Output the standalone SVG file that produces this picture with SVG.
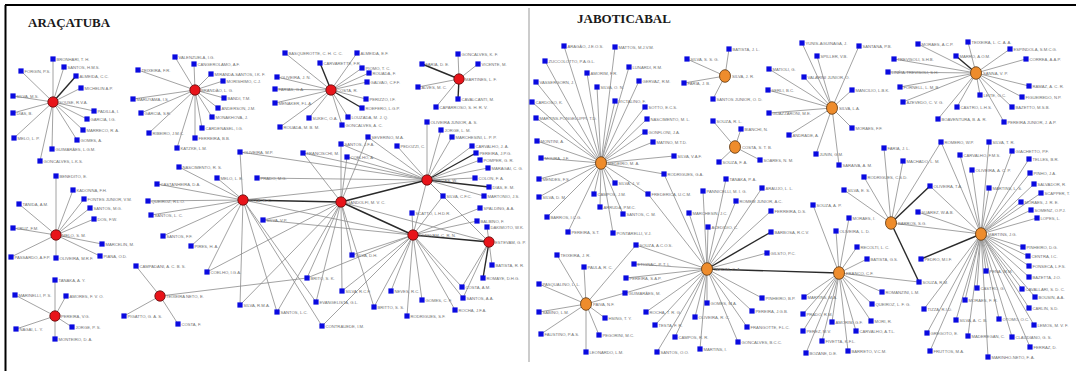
<svg xmlns="http://www.w3.org/2000/svg" width="1076" height="371" viewBox="0 0 1076 371">
<style>
text{font-family:"Liberation Sans",Arial,sans-serif;font-size:4.2px;fill:#707070}
.ttl{font-family:"Liberation Serif","Times New Roman",serif;font-size:13px;font-weight:bold;fill:#1a1a1a}
.e{stroke:#8c8c8c;stroke-width:0.8}
.t{stroke:#2a2a2a;stroke-width:1.4}
.r{fill:#e8141a;stroke:#5a0a0a;stroke-width:0.8}
.o{fill:#ee8c2c;stroke:#5a3510;stroke-width:0.8}
</style>
<defs><rect id="q" x="-2.6" y="-2.6" width="5.2" height="5.2" fill="#0a0ae0"/></defs>
<rect width="1076" height="371" fill="#fff"/>
<g id="frame">
<line x1="5" y1="5" x2="1076" y2="5" stroke="#000" stroke-width="2"/>
<line x1="5.5" y1="5" x2="5.5" y2="371" stroke="#000" stroke-width="2"/>
<line x1="529" y1="8" x2="529" y2="362" stroke="#aaa" stroke-width="1.2"/>
</g>
<text class="ttl" x="28" y="27">ARAÇATUBA</text>
<text class="ttl" x="577" y="23">JABOTICABAL</text>
<g id="connectors">
<line class="e" x1="53" y1="102" x2="53" y2="59"/><line class="e" x1="53" y1="102" x2="64" y2="67"/><line class="e" x1="53" y1="102" x2="21" y2="71"/><line class="t" x1="53" y1="102" x2="76" y2="76"/><line class="e" x1="53" y1="102" x2="81" y2="88"/><line class="e" x1="53" y1="102" x2="13" y2="96"/><line class="e" x1="53" y1="102" x2="13" y2="113"/><line class="e" x1="53" y1="102" x2="94" y2="111"/><line class="e" x1="53" y1="102" x2="87" y2="119"/><line class="e" x1="53" y1="102" x2="83" y2="130"/><line class="e" x1="53" y1="102" x2="77" y2="140"/><line class="e" x1="53" y1="102" x2="14" y2="138"/><line class="e" x1="53" y1="102" x2="52" y2="149"/><line class="e" x1="53" y1="102" x2="40" y2="161"/>
<line class="e" x1="195" y1="90" x2="175" y2="57"/><line class="e" x1="195" y1="90" x2="194" y2="64"/><line class="e" x1="195" y1="90" x2="138" y2="70"/><line class="e" x1="195" y1="90" x2="211" y2="74"/><line class="e" x1="195" y1="90" x2="223" y2="81"/><line class="e" x1="195" y1="90" x2="133" y2="99"/><line class="e" x1="195" y1="90" x2="224" y2="98"/><line class="e" x1="195" y1="90" x2="141" y2="113"/><line class="e" x1="195" y1="90" x2="218" y2="108"/><line class="e" x1="195" y1="90" x2="212" y2="117"/><line class="e" x1="195" y1="90" x2="202" y2="128"/><line class="e" x1="195" y1="90" x2="149" y2="133"/><line class="e" x1="195" y1="90" x2="195" y2="138"/><line class="e" x1="195" y1="90" x2="177" y2="148"/>
<line class="e" x1="331" y1="90" x2="285" y2="53"/><line class="e" x1="331" y1="90" x2="357" y2="53"/><line class="t" x1="331" y1="90" x2="320" y2="63"/><line class="e" x1="331" y1="90" x2="362" y2="68"/><line class="e" x1="331" y1="90" x2="369" y2="73"/><line class="e" x1="331" y1="90" x2="277" y2="77"/><line class="e" x1="331" y1="90" x2="367" y2="82"/><line class="e" x1="331" y1="90" x2="275" y2="89"/><line class="e" x1="331" y1="90" x2="366" y2="99"/><line class="e" x1="331" y1="90" x2="275" y2="103"/><line class="t" x1="331" y1="90" x2="362" y2="108"/><line class="e" x1="331" y1="90" x2="348" y2="117"/><line class="e" x1="331" y1="90" x2="309" y2="118"/><line class="e" x1="331" y1="90" x2="280" y2="127"/><line class="e" x1="331" y1="90" x2="342" y2="125"/>
<line class="e" x1="459" y1="79" x2="458" y2="54"/><line class="t" x1="459" y1="79" x2="422" y2="64"/><line class="e" x1="459" y1="79" x2="478" y2="64"/><line class="e" x1="459" y1="79" x2="418" y2="87"/><line class="t" x1="459" y1="79" x2="458" y2="99"/><line class="e" x1="459" y1="79" x2="436" y2="107"/>
<line class="e" x1="56" y1="235" x2="56" y2="176"/><line class="e" x1="56" y1="235" x2="73" y2="190"/><line class="e" x1="56" y1="235" x2="84" y2="199"/><line class="e" x1="56" y1="235" x2="19" y2="204"/><line class="e" x1="56" y1="235" x2="90" y2="208"/><line class="e" x1="56" y1="235" x2="94" y2="219"/><line class="e" x1="56" y1="235" x2="13" y2="228"/><line class="e" x1="56" y1="235" x2="102" y2="244"/><line class="e" x1="56" y1="235" x2="11" y2="257"/><line class="e" x1="56" y1="235" x2="56" y2="258"/><line class="e" x1="56" y1="235" x2="100" y2="256"/>
<line class="e" x1="55" y1="316" x2="55" y2="280"/><line class="e" x1="55" y1="316" x2="15" y2="295"/><line class="e" x1="55" y1="316" x2="66" y2="296"/><line class="e" x1="55" y1="316" x2="16" y2="329"/><line class="e" x1="55" y1="316" x2="72" y2="327"/><line class="e" x1="55" y1="316" x2="55" y2="339"/>
<line class="e" x1="160" y1="296" x2="136" y2="266"/><line class="e" x1="160" y1="296" x2="124" y2="316"/><line class="e" x1="160" y1="296" x2="178" y2="324"/><line class="e" x1="160" y1="296" x2="307" y2="278"/>
<line class="e" x1="243" y1="200" x2="179" y2="167"/><line class="e" x1="243" y1="200" x2="217" y2="178"/><line class="e" x1="243" y1="200" x2="157" y2="184"/><line class="e" x1="243" y1="200" x2="148" y2="201"/><line class="e" x1="243" y1="200" x2="151" y2="215"/><line class="e" x1="243" y1="200" x2="163" y2="236"/><line class="e" x1="243" y1="200" x2="191" y2="246"/><line class="e" x1="243" y1="200" x2="207" y2="272"/><line class="e" x1="243" y1="200" x2="240" y2="305"/><line class="e" x1="243" y1="200" x2="277" y2="312"/><line class="e" x1="243" y1="200" x2="322" y2="326"/><line class="e" x1="243" y1="200" x2="316" y2="302"/><line class="e" x1="243" y1="200" x2="240" y2="152"/>
<line class="t" x1="243" y1="200" x2="341" y2="202"/><line class="e" x1="243" y1="200" x2="427" y2="180"/><line class="e" x1="243" y1="200" x2="413" y2="235"/>
<line class="e" x1="341" y1="202" x2="341" y2="144"/><line class="e" x1="341" y1="202" x2="303" y2="153"/><line class="e" x1="341" y1="202" x2="347" y2="157"/><line class="e" x1="341" y1="202" x2="263" y2="220"/><line class="e" x1="341" y1="202" x2="207" y2="272"/><line class="e" x1="341" y1="202" x2="352" y2="255"/><line class="e" x1="341" y1="202" x2="342" y2="291"/><line class="e" x1="341" y1="202" x2="316" y2="302"/><line class="e" x1="341" y1="202" x2="307" y2="278"/><line class="e" x1="341" y1="202" x2="374" y2="307"/><line class="e" x1="341" y1="202" x2="277" y2="312"/><line class="e" x1="341" y1="202" x2="240" y2="305"/><line class="e" x1="341" y1="202" x2="368" y2="137"/>
<line class="t" x1="341" y1="202" x2="427" y2="180"/><line class="t" x1="341" y1="202" x2="413" y2="235"/><line class="e" x1="341" y1="202" x2="489" y2="242"/>
<line class="e" x1="427" y1="180" x2="427" y2="122"/><line class="e" x1="427" y1="180" x2="441" y2="130"/><line class="e" x1="427" y1="180" x2="452" y2="137"/><line class="e" x1="427" y1="180" x2="397" y2="146"/><line class="e" x1="427" y1="180" x2="472" y2="146"/><line class="t" x1="427" y1="180" x2="476" y2="153"/><line class="e" x1="427" y1="180" x2="480" y2="160"/><line class="e" x1="427" y1="180" x2="488" y2="168"/><line class="e" x1="427" y1="180" x2="475" y2="178"/><line class="t" x1="427" y1="180" x2="489" y2="187"/><line class="e" x1="427" y1="180" x2="443" y2="196"/><line class="e" x1="427" y1="180" x2="484" y2="196"/><line class="e" x1="427" y1="180" x2="368" y2="137"/><line class="e" x1="427" y1="180" x2="341" y2="144"/><line class="e" x1="427" y1="180" x2="303" y2="153"/><line class="e" x1="427" y1="180" x2="240" y2="152"/><line class="e" x1="427" y1="180" x2="257" y2="178"/><line class="e" x1="427" y1="180" x2="347" y2="157"/>
<line class="e" x1="427" y1="180" x2="413" y2="235"/><line class="e" x1="427" y1="180" x2="489" y2="242"/>
<line class="e" x1="413" y1="235" x2="412" y2="213"/><line class="e" x1="413" y1="235" x2="480" y2="208"/><line class="e" x1="413" y1="235" x2="477" y2="221"/><line class="e" x1="413" y1="235" x2="443" y2="196"/><line class="e" x1="413" y1="235" x2="352" y2="255"/><line class="e" x1="413" y1="235" x2="391" y2="291"/><line class="e" x1="413" y1="235" x2="422" y2="300"/><line class="e" x1="413" y1="235" x2="374" y2="307"/><line class="e" x1="413" y1="235" x2="455" y2="310"/><line class="e" x1="413" y1="235" x2="407" y2="316"/><line class="e" x1="413" y1="235" x2="463" y2="298"/><line class="e" x1="413" y1="235" x2="462" y2="287"/><line class="e" x1="413" y1="235" x2="342" y2="291"/><line class="e" x1="413" y1="235" x2="322" y2="326"/><line class="e" x1="413" y1="235" x2="307" y2="278"/><line class="e" x1="413" y1="235" x2="263" y2="220"/>
<line class="t" x1="413" y1="235" x2="489" y2="242"/>
<line class="e" x1="489" y1="242" x2="492" y2="265"/><line class="t" x1="489" y1="242" x2="483" y2="278"/><line class="e" x1="489" y1="242" x2="462" y2="287"/><line class="e" x1="489" y1="242" x2="487" y2="227"/><line class="e" x1="489" y1="242" x2="463" y2="298"/>
<line class="e" x1="725" y1="76" x2="729" y2="49"/><line class="e" x1="725" y1="76" x2="687" y2="59"/><line class="e" x1="725" y1="76" x2="684" y2="83"/><line class="e" x1="725" y1="76" x2="713" y2="99"/>
<line class="e" x1="601" y1="163" x2="564" y2="46"/><line class="e" x1="601" y1="163" x2="615" y2="47"/><line class="e" x1="601" y1="163" x2="545" y2="61"/><line class="e" x1="601" y1="163" x2="587" y2="73"/><line class="e" x1="601" y1="163" x2="629" y2="67"/><line class="e" x1="601" y1="163" x2="536" y2="82"/><line class="e" x1="601" y1="163" x2="597" y2="87"/><line class="e" x1="601" y1="163" x2="639" y2="81"/><line class="e" x1="601" y1="163" x2="532" y2="102"/><line class="e" x1="601" y1="163" x2="615" y2="101"/><line class="e" x1="601" y1="163" x2="645" y2="107"/><line class="e" x1="601" y1="163" x2="536" y2="118"/><line class="e" x1="601" y1="163" x2="647" y2="119"/><line class="e" x1="601" y1="163" x2="645" y2="132"/><line class="e" x1="601" y1="163" x2="537" y2="141"/><line class="e" x1="601" y1="163" x2="653" y2="142"/><line class="e" x1="601" y1="163" x2="541" y2="158"/><line class="e" x1="601" y1="163" x2="674" y2="156"/><line class="e" x1="601" y1="163" x2="664" y2="174"/><line class="e" x1="601" y1="163" x2="539" y2="179"/><line class="e" x1="601" y1="163" x2="615" y2="183"/><line class="e" x1="601" y1="163" x2="648" y2="194"/><line class="e" x1="601" y1="163" x2="539" y2="197"/><line class="e" x1="601" y1="163" x2="594" y2="194"/><line class="e" x1="601" y1="163" x2="600" y2="207"/><line class="e" x1="601" y1="163" x2="623" y2="214"/><line class="e" x1="601" y1="163" x2="547" y2="217"/><line class="e" x1="601" y1="163" x2="568" y2="232"/><line class="e" x1="601" y1="163" x2="613" y2="233"/>
<line class="e" x1="735" y1="147" x2="741" y2="129"/><line class="e" x1="735" y1="147" x2="713" y2="121"/><line class="e" x1="735" y1="147" x2="719" y2="162"/><line class="e" x1="735" y1="147" x2="760" y2="160"/>
<line class="e" x1="832" y1="108" x2="802" y2="43"/><line class="e" x1="832" y1="108" x2="859" y2="46"/><line class="e" x1="832" y1="108" x2="817" y2="56"/><line class="e" x1="832" y1="108" x2="769" y2="69"/><line class="e" x1="832" y1="108" x2="804" y2="77"/><line class="e" x1="832" y1="108" x2="852" y2="90"/><line class="e" x1="832" y1="108" x2="768" y2="90"/><line class="e" x1="832" y1="108" x2="769" y2="113"/><line class="e" x1="832" y1="108" x2="852" y2="128"/><line class="e" x1="832" y1="108" x2="789" y2="135"/><line class="e" x1="832" y1="108" x2="816" y2="154"/><line class="e" x1="832" y1="108" x2="839" y2="165"/>
<line class="e" x1="976" y1="73" x2="918" y2="44"/><line class="e" x1="976" y1="73" x2="968" y2="42"/><line class="e" x1="976" y1="73" x2="1010" y2="49"/><line class="t" x1="976" y1="73" x2="956" y2="56"/><line class="e" x1="976" y1="73" x2="894" y2="59"/><line class="e" x1="976" y1="73" x2="1026" y2="59"/><line class="e" x1="976" y1="73" x2="888" y2="72"/><line class="e" x1="976" y1="73" x2="900" y2="87"/><line class="e" x1="976" y1="73" x2="1029" y2="86"/><line class="e" x1="976" y1="73" x2="980" y2="95"/><line class="e" x1="976" y1="73" x2="1022" y2="97"/><line class="e" x1="976" y1="73" x2="903" y2="102"/><line class="e" x1="976" y1="73" x2="957" y2="107"/><line class="e" x1="976" y1="73" x2="1012" y2="107"/><line class="e" x1="976" y1="73" x2="938" y2="119"/><line class="e" x1="976" y1="73" x2="1004" y2="122"/>
<line class="e" x1="891" y1="223" x2="884" y2="148"/><line class="e" x1="891" y1="223" x2="903" y2="161"/><line class="e" x1="891" y1="223" x2="864" y2="177"/><line class="e" x1="891" y1="223" x2="844" y2="190"/><line class="t" x1="891" y1="223" x2="930" y2="186"/><line class="e" x1="891" y1="223" x2="941" y2="142"/><line class="e" x1="891" y1="223" x2="981" y2="234"/><line class="t" x1="891" y1="223" x2="919" y2="282"/>
<line class="e" x1="981" y1="234" x2="989" y2="142"/><line class="e" x1="981" y1="234" x2="1012" y2="151"/><line class="e" x1="981" y1="234" x2="960" y2="155"/><line class="e" x1="981" y1="234" x2="1029" y2="159"/><line class="e" x1="981" y1="234" x2="972" y2="170"/><line class="e" x1="981" y1="234" x2="1030" y2="173"/><line class="e" x1="981" y1="234" x2="1034" y2="184"/><line class="e" x1="981" y1="234" x2="989" y2="188"/><line class="e" x1="981" y1="234" x2="1041" y2="193"/><line class="e" x1="981" y1="234" x2="1021" y2="202"/><line class="e" x1="981" y1="234" x2="1031" y2="210"/><line class="e" x1="981" y1="234" x2="1037" y2="218"/><line class="e" x1="981" y1="234" x2="1023" y2="247"/><line class="e" x1="981" y1="234" x2="1028" y2="256"/><line class="e" x1="981" y1="234" x2="1029" y2="266"/><line class="e" x1="981" y1="234" x2="1029" y2="277"/><line class="e" x1="981" y1="234" x2="986" y2="271"/><line class="e" x1="981" y1="234" x2="977" y2="288"/><line class="e" x1="981" y1="234" x2="1022" y2="289"/><line class="e" x1="981" y1="234" x2="965" y2="300"/><line class="e" x1="981" y1="234" x2="1035" y2="297"/><line class="e" x1="981" y1="234" x2="1029" y2="308"/><line class="e" x1="981" y1="234" x2="924" y2="309"/><line class="e" x1="981" y1="234" x2="956" y2="320"/><line class="e" x1="981" y1="234" x2="999" y2="319"/><line class="e" x1="981" y1="234" x2="1034" y2="325"/><line class="e" x1="981" y1="234" x2="927" y2="333"/><line class="e" x1="981" y1="234" x2="968" y2="336"/><line class="e" x1="981" y1="234" x2="1012" y2="337"/><line class="e" x1="981" y1="234" x2="1030" y2="347"/><line class="e" x1="981" y1="234" x2="930" y2="351"/><line class="e" x1="981" y1="234" x2="988" y2="357"/><line class="t" x1="981" y1="234" x2="921" y2="259"/><line class="e" x1="981" y1="234" x2="930" y2="186"/><line class="e" x1="981" y1="234" x2="918" y2="212"/><line class="e" x1="981" y1="234" x2="941" y2="142"/>
<line class="e" x1="839" y1="273" x2="857" y2="247"/><line class="e" x1="839" y1="273" x2="867" y2="259"/><line class="e" x1="839" y1="273" x2="882" y2="292"/><line class="e" x1="839" y1="273" x2="872" y2="304"/><line class="e" x1="839" y1="273" x2="804" y2="297"/><line class="e" x1="839" y1="273" x2="803" y2="314"/><line class="e" x1="839" y1="273" x2="871" y2="321"/><line class="e" x1="839" y1="273" x2="832" y2="322"/><line class="e" x1="839" y1="273" x2="803" y2="331"/><line class="e" x1="839" y1="273" x2="856" y2="331"/><line class="e" x1="839" y1="273" x2="822" y2="341"/><line class="e" x1="839" y1="273" x2="806" y2="353"/><line class="e" x1="839" y1="273" x2="848" y2="351"/><line class="e" x1="839" y1="273" x2="919" y2="282"/><line class="e" x1="839" y1="273" x2="813" y2="205"/><line class="e" x1="839" y1="273" x2="849" y2="218"/><line class="e" x1="839" y1="273" x2="836" y2="231"/>
<line class="e" x1="707" y1="269" x2="636" y2="245"/><line class="e" x1="707" y1="269" x2="726" y2="179"/><line class="e" x1="707" y1="269" x2="762" y2="188"/><line class="e" x1="707" y1="269" x2="703" y2="191"/><line class="e" x1="707" y1="269" x2="736" y2="201"/><line class="e" x1="707" y1="269" x2="771" y2="211"/><line class="e" x1="707" y1="269" x2="689" y2="213"/><line class="e" x1="707" y1="269" x2="708" y2="227"/><line class="t" x1="707" y1="269" x2="771" y2="232"/><line class="e" x1="707" y1="269" x2="634" y2="264"/><line class="e" x1="707" y1="269" x2="626" y2="278"/><line class="e" x1="707" y1="269" x2="625" y2="293"/><line class="e" x1="707" y1="269" x2="767" y2="253"/><line class="e" x1="707" y1="269" x2="762" y2="298"/><line class="e" x1="707" y1="269" x2="707" y2="303"/><line class="e" x1="707" y1="269" x2="646" y2="312"/><line class="e" x1="707" y1="269" x2="752" y2="311"/><line class="e" x1="707" y1="269" x2="695" y2="317"/><line class="e" x1="707" y1="269" x2="655" y2="325"/><line class="e" x1="707" y1="269" x2="747" y2="327"/><line class="e" x1="707" y1="269" x2="675" y2="337"/><line class="e" x1="707" y1="269" x2="738" y2="342"/><line class="e" x1="707" y1="269" x2="657" y2="352"/><line class="e" x1="707" y1="269" x2="700" y2="349"/><line class="e" x1="707" y1="269" x2="664" y2="174"/><line class="e" x1="707" y1="269" x2="648" y2="194"/><line class="t" x1="707" y1="269" x2="839" y2="273"/>
<line class="e" x1="586" y1="304" x2="557" y2="255"/><line class="e" x1="586" y1="304" x2="584" y2="267"/><line class="e" x1="586" y1="304" x2="539" y2="284"/><line class="e" x1="586" y1="304" x2="539" y2="312"/><line class="e" x1="586" y1="304" x2="605" y2="318"/><line class="e" x1="586" y1="304" x2="541" y2="334"/><line class="e" x1="586" y1="304" x2="599" y2="335"/><line class="e" x1="586" y1="304" x2="586" y2="352"/><line class="e" x1="586" y1="304" x2="625" y2="293"/><line class="e" x1="586" y1="304" x2="636" y2="245"/>
</g>
<g id="A1"><circle class="r" cx="53" cy="102" r="5.2"/><text x="59" y="103.5">SOUSE, R.V.A.</text></g>
<g id="a01"><use href="#q" x="53" y="59"/><text x="56.5" y="60.5">BRONHARI, T. H.</text></g>
<g id="a02"><use href="#q" x="64" y="67"/><text x="67.5" y="68.5">SANTOS, H.M.S.</text></g>
<g id="a03"><use href="#q" x="21" y="71"/><text x="24.5" y="72.5">FORGIN, P.S.</text></g>
<g id="a04"><use href="#q" x="76" y="76"/><text x="79.5" y="77.5">ALMEIDA, C.C.</text></g>
<g id="a05"><use href="#q" x="81" y="88"/><text x="84.5" y="89.5">MICHELIN A.P.</text></g>
<g id="a06"><use href="#q" x="13" y="96"/><text x="16.5" y="97.5">SILVA, M.S.</text></g>
<g id="a07"><use href="#q" x="13" y="113"/><text x="16.5" y="114.5">DIAS, B.</text></g>
<g id="a08"><use href="#q" x="94" y="111"/><text x="97.5" y="112.5">PADILLA, I.</text></g>
<g id="a09"><use href="#q" x="87" y="119"/><text x="90.5" y="120.5">GARCIA, I.G.</text></g>
<g id="a10"><use href="#q" x="83" y="130"/><text x="86.5" y="131.5">MARRECO, R. A.</text></g>
<g id="a11"><use href="#q" x="77" y="140"/><text x="80.5" y="141.5">GOMES, A.</text></g>
<g id="a12"><use href="#q" x="14" y="138"/><text x="17.5" y="139.5">MELO, L. P.</text></g>
<g id="a13"><use href="#q" x="52" y="149"/><text x="55.5" y="150.5">GUIMARÃES, L.G.M.</text></g>
<g id="a14"><use href="#q" x="40" y="161"/><text x="43.5" y="162.5">GONCALVES, L.K.S.</text></g>
<g id="A2"><circle class="r" cx="195" cy="90" r="5.2"/><text x="201" y="91.5">BRANDÃO, L. G.</text></g>
<g id="b01"><use href="#q" x="175" y="57"/><text x="178.5" y="58.5">VALENZUELA, I.G.</text></g>
<g id="b02"><use href="#q" x="194" y="64"/><text x="197.5" y="65.5">CANGEROLAMO, A.F.</text></g>
<g id="b03"><use href="#q" x="138" y="70"/><text x="141.5" y="71.5">TEIXEIRA, F.R.</text></g>
<g id="b04"><use href="#q" x="211" y="74"/><text x="214.5" y="75.5">MIRANDA-SANTOS, I.K. F.</text></g>
<g id="b05"><use href="#q" x="223" y="81"/><text x="226.5" y="82.5">MORISHIMO, C.J.</text></g>
<g id="b06"><use href="#q" x="133" y="99"/><text x="136.5" y="100.5">MARUYAMA, I.S.</text></g>
<g id="b07"><use href="#q" x="224" y="98"/><text x="227.5" y="99.5">BANDI, T.M.</text></g>
<g id="b08"><use href="#q" x="141" y="113"/><text x="144.5" y="114.5">GARCIA, S.R.</text></g>
<g id="b09"><use href="#q" x="218" y="108"/><text x="221.5" y="109.5">ANDERSON, J.M.</text></g>
<g id="b10"><use href="#q" x="212" y="117"/><text x="215.5" y="118.5">MONAKHOVA, J.</text></g>
<g id="b11"><use href="#q" x="202" y="128"/><text x="205.5" y="129.5">CARDENASEL, I.G.</text></g>
<g id="b12"><use href="#q" x="149" y="133"/><text x="152.5" y="134.5">RIBEIRO, J.M.C.</text></g>
<g id="b13"><use href="#q" x="195" y="138"/><text x="198.5" y="139.5">FERREIRA, B.B.</text></g>
<g id="b14"><use href="#q" x="177" y="148"/><text x="180.5" y="149.5">KATZKE, L.M.</text></g>
<g id="A3"><circle class="r" cx="331" cy="90" r="5.2"/><text x="337" y="91.5">COSTA, R.</text></g>
<g id="c01"><use href="#q" x="285" y="53"/><text x="288.5" y="54.5">BASQUEROTTE, C. H. C. C.</text></g>
<g id="c02"><use href="#q" x="357" y="53"/><text x="360.5" y="54.5">ALMEIDA, E.F.</text></g>
<g id="c03"><use href="#q" x="320" y="63"/><text x="323.5" y="64.5">CARVARETTE, F.R.</text></g>
<g id="c04"><use href="#q" x="362" y="68"/><text x="365.5" y="69.5">PIOMO, T. C.</text></g>
<g id="c05"><use href="#q" x="369" y="73"/><text x="372.5" y="74.5">ROUADA, F.</text></g>
<g id="c06"><use href="#q" x="277" y="77"/><text x="280.5" y="78.5">OLIVEIRA, J. N.</text></g>
<g id="c07"><use href="#q" x="367" y="82"/><text x="370.5" y="83.5">GALVAO, C.F.F.</text></g>
<g id="c08"><use href="#q" x="275" y="89"/><text x="278.5" y="90.5">FARIAS, G.A.</text></g>
<g id="c09"><use href="#q" x="366" y="99"/><text x="369.5" y="100.5">PERIZZO, I.F.</text></g>
<g id="c10"><use href="#q" x="275" y="103"/><text x="278.5" y="104.5">MENAKER, F.L.A.</text></g>
<g id="c11"><use href="#q" x="362" y="108"/><text x="365.5" y="109.5">ROEFERO, L.G.P.</text></g>
<g id="c12"><use href="#q" x="348" y="117"/><text x="351.5" y="118.5">LOUZADA, M. J. Q.</text></g>
<g id="c13"><use href="#q" x="309" y="118"/><text x="312.5" y="119.5">SUKEC, O.A.</text></g>
<g id="c14"><use href="#q" x="280" y="127"/><text x="283.5" y="128.5">ROUADA, M. B. M.</text></g>
<g id="c15"><use href="#q" x="342" y="125"/><text x="345.5" y="126.5">GONCALVES, A. C.</text></g>
<g id="A4"><circle class="r" cx="459" cy="79" r="5.2"/><text x="465" y="80.5">MARTINES, L. F.</text></g>
<g id="d01"><use href="#q" x="458" y="54"/><text x="461.5" y="55.5">GONCALVES, K. F.</text></g>
<g id="d02"><use href="#q" x="422" y="64"/><text x="425.5" y="65.5">FARIA, D. E.</text></g>
<g id="d03"><use href="#q" x="478" y="64"/><text x="481.5" y="65.5">VICENTE, M.</text></g>
<g id="d04"><use href="#q" x="418" y="87"/><text x="421.5" y="88.5">ALVES, M. C.</text></g>
<g id="d05"><use href="#q" x="458" y="99"/><text x="461.5" y="100.5">CAVALCANTI, M.</text></g>
<g id="d06"><use href="#q" x="436" y="107"/><text x="439.5" y="108.5">CAPARROSO, S. H. R. V.</text></g>
<g id="A5"><circle class="r" cx="56" cy="235" r="5.2"/><text x="62" y="236.5">MELO, S. M.</text></g>
<g id="e01"><use href="#q" x="56" y="176"/><text x="59.5" y="177.5">BENEDITO, E.</text></g>
<g id="e02"><use href="#q" x="73" y="190"/><text x="76.5" y="191.5">KADONNA, F.H.</text></g>
<g id="e03"><use href="#q" x="84" y="199"/><text x="87.5" y="200.5">FONTES JUNIOR, V.M.</text></g>
<g id="e04"><use href="#q" x="19" y="204"/><text x="22.5" y="205.5">TANIDA, A.M.</text></g>
<g id="e05"><use href="#q" x="90" y="208"/><text x="93.5" y="209.5">SANTOS, M.G.</text></g>
<g id="e06"><use href="#q" x="94" y="219"/><text x="97.5" y="220.5">DOS, F.W.</text></g>
<g id="e07"><use href="#q" x="13" y="228"/><text x="16.5" y="229.5">CRUZ, F.M.</text></g>
<g id="e08"><use href="#q" x="102" y="244"/><text x="105.5" y="245.5">MARCELIN, M.</text></g>
<g id="e09"><use href="#q" x="11" y="257"/><text x="14.5" y="258.5">PASSARDO, A.F.P.</text></g>
<g id="e10"><use href="#q" x="56" y="258"/><text x="59.5" y="259.5">OLIVEIRA, M.R.F.</text></g>
<g id="e11"><use href="#q" x="100" y="256"/><text x="103.5" y="257.5">PIANA, O.D.</text></g>
<g id="A6"><circle class="r" cx="55" cy="316" r="5.2"/><text x="61" y="317.5">PEREIRA, V.G.</text></g>
<g id="f01"><use href="#q" x="55" y="280"/><text x="58.5" y="281.5">TANAKA, A. Y.</text></g>
<g id="f02"><use href="#q" x="15" y="295"/><text x="18.5" y="296.5">MARINELLI, P. S.</text></g>
<g id="f03"><use href="#q" x="66" y="296"/><text x="69.5" y="297.5">AMORES, F. V. O.</text></g>
<g id="f04"><use href="#q" x="16" y="329"/><text x="19.5" y="330.5">NAGAI, L. Y.</text></g>
<g id="f05"><use href="#q" x="72" y="327"/><text x="75.5" y="328.5">JORGE, P. S.</text></g>
<g id="f06"><use href="#q" x="55" y="339"/><text x="58.5" y="340.5">MONTEIRO, D. A.</text></g>
<g id="A7"><circle class="r" cx="160" cy="296" r="5.2"/><text x="166" y="297.5">TEIXEIRA NETO, E.</text></g>
<g id="g01"><use href="#q" x="136" y="266"/><text x="139.5" y="267.5">CAMPADANI, A. C. B. S.</text></g>
<g id="g02"><use href="#q" x="124" y="316"/><text x="127.5" y="317.5">PIGATTO, G. A. S.</text></g>
<g id="g03"><use href="#q" x="178" y="324"/><text x="181.5" y="325.5">COSTA, F.</text></g>
<g id="H1"><circle class="r" cx="243" cy="200" r="5.2"/><text x="249" y="201.5">SENA, R. C.</text></g>
<g id="H2"><circle class="r" cx="341" cy="202" r="5.2"/><text x="347" y="203.5">GANDOLFI, M. V. C.</text></g>
<g id="H3"><circle class="r" cx="427" cy="180" r="5.2"/><text x="433" y="181.5">FONTES, W.</text></g>
<g id="H4"><circle class="r" cx="413" cy="235" r="5.2"/><text x="419" y="236.5">ESTEVAM, C. R. N.</text></g>
<g id="H5"><circle class="r" cx="489" cy="242" r="5.2"/><text x="495" y="243.5">ESTEVAM, G. P.</text></g>
<g id="h01"><use href="#q" x="240" y="152"/><text x="243.5" y="153.5">OLIVEIRA, M.P.</text></g>
<g id="h02"><use href="#q" x="179" y="167"/><text x="182.5" y="168.5">NASCIMENTO, R. S.</text></g>
<g id="h03"><use href="#q" x="217" y="178"/><text x="220.5" y="179.5">MELO, L. E.</text></g>
<g id="h04"><use href="#q" x="257" y="178"/><text x="260.5" y="179.5">PRADO, M.G.</text></g>
<g id="h05"><use href="#q" x="157" y="184"/><text x="160.5" y="185.5">CASTANHEIRA, D.A.</text></g>
<g id="h06"><use href="#q" x="148" y="201"/><text x="151.5" y="202.5">QUEIROZ, R.L.O.</text></g>
<g id="h07"><use href="#q" x="151" y="215"/><text x="154.5" y="216.5">SANTOS, L. C.</text></g>
<g id="h08"><use href="#q" x="163" y="236"/><text x="166.5" y="237.5">SANTOS, F.F.</text></g>
<g id="h09"><use href="#q" x="191" y="246"/><text x="194.5" y="247.5">PIRES, H. A.</text></g>
<g id="h10"><use href="#q" x="207" y="272"/><text x="210.5" y="273.5">COELHO, I.G.A.</text></g>
<g id="h11"><use href="#q" x="240" y="305"/><text x="243.5" y="306.5">SILVA, R.M.A.</text></g>
<g id="h12"><use href="#q" x="263" y="220"/><text x="266.5" y="221.5">SILVA, V.P.</text></g>
<g id="h14"><use href="#q" x="427" y="122"/><text x="430.5" y="123.5">OLIVEIRA JUNIOR, A. S.</text></g>
<g id="h15"><use href="#q" x="441" y="130"/><text x="444.5" y="131.5">JORGE, L. M.</text></g>
<g id="h16"><use href="#q" x="368" y="137"/><text x="371.5" y="138.5">SEVERINO, M.A.</text></g>
<g id="h17"><use href="#q" x="452" y="137"/><text x="455.5" y="138.5">MARCHESINI, L. P. P.</text></g>
<g id="h18"><use href="#q" x="341" y="144"/><text x="344.5" y="145.5">SANTOS, J.F.A.</text></g>
<g id="h19"><use href="#q" x="397" y="146"/><text x="400.5" y="147.5">PEDOZZI, C.</text></g>
<g id="h20"><use href="#q" x="472" y="146"/><text x="475.5" y="147.5">CARVALHO, J. A.</text></g>
<g id="h21"><use href="#q" x="303" y="153"/><text x="306.5" y="154.5">FRANCISCHI, M.</text></g>
<g id="h22"><use href="#q" x="347" y="157"/><text x="350.5" y="158.5">COELHO, A.</text></g>
<g id="h23"><use href="#q" x="476" y="153"/><text x="479.5" y="154.5">PEREIRA, J.P.G.</text></g>
<g id="h24"><use href="#q" x="480" y="160"/><text x="483.5" y="161.5">POMPER, G. R.</text></g>
<g id="h25"><use href="#q" x="488" y="168"/><text x="491.5" y="169.5">MARAGAI, C. G.</text></g>
<g id="h26"><use href="#q" x="475" y="178"/><text x="478.5" y="179.5">COLON, F. A.</text></g>
<g id="h27"><use href="#q" x="489" y="187"/><text x="492.5" y="188.5">DIAS, E. M.</text></g>
<g id="h28"><use href="#q" x="443" y="196"/><text x="446.5" y="197.5">SILVA, C.F.C.</text></g>
<g id="h29"><use href="#q" x="484" y="196"/><text x="487.5" y="197.5">MARTONIO, J.S.</text></g>
<g id="h30"><use href="#q" x="412" y="213"/><text x="415.5" y="214.5">SCATTO, L.H.D.R.</text></g>
<g id="h31"><use href="#q" x="480" y="208"/><text x="483.5" y="209.5">SPALDING, A.A.</text></g>
<g id="h32"><use href="#q" x="477" y="221"/><text x="480.5" y="222.5">BALBINO, F.</text></g>
<g id="h33"><use href="#q" x="487" y="227"/><text x="490.5" y="228.5">DAKIMOTO, W.K.</text></g>
<g id="h34"><use href="#q" x="352" y="255"/><text x="355.5" y="256.5">SILVA, D.H.</text></g>
<g id="h35"><use href="#q" x="492" y="265"/><text x="495.5" y="266.5">BATISTA, R. R.</text></g>
<g id="h36"><use href="#q" x="483" y="278"/><text x="486.5" y="279.5">ROMAYE, D.H.G.</text></g>
<g id="h37"><use href="#q" x="307" y="278"/><text x="310.5" y="279.5">BRITO, S. K.</text></g>
<g id="h38"><use href="#q" x="462" y="287"/><text x="465.5" y="288.5">COSTA, A.M.</text></g>
<g id="h39"><use href="#q" x="342" y="291"/><text x="345.5" y="292.5">SILVA, R.C.F.</text></g>
<g id="h40"><use href="#q" x="391" y="291"/><text x="394.5" y="292.5">NEVES, R.C.</text></g>
<g id="h41"><use href="#q" x="463" y="298"/><text x="466.5" y="299.5">SANTOS, A.A.</text></g>
<g id="h42"><use href="#q" x="316" y="302"/><text x="319.5" y="303.5">EVANGELISTA, G.L.</text></g>
<g id="h43"><use href="#q" x="422" y="300"/><text x="425.5" y="301.5">GOMES, C. F.</text></g>
<g id="h44"><use href="#q" x="374" y="307"/><text x="377.5" y="308.5">BRITTO, S. S.</text></g>
<g id="h45"><use href="#q" x="455" y="310"/><text x="458.5" y="311.5">ROCHA, J.F.A.</text></g>
<g id="h46"><use href="#q" x="277" y="312"/><text x="280.5" y="313.5">SANTOS, L.C.</text></g>
<g id="h47"><use href="#q" x="407" y="316"/><text x="410.5" y="317.5">RODRIGUES, S.F.</text></g>
<g id="h48"><use href="#q" x="322" y="326"/><text x="325.5" y="327.5">CONTRAUEDE, I.M.</text></g>
<g id="R1"><ellipse class="o" cx="725" cy="76" rx="5.5" ry="6.3"/><text x="732" y="77.5">SILVA, J. R.</text></g>
<g id="p01"><use href="#q" x="729" y="49"/><text x="732.5" y="50.5">BATISTA, J. L.</text></g>
<g id="p02"><use href="#q" x="687" y="59"/><text x="690.5" y="60.5">SILVA, S. S. G.</text></g>
<g id="p03"><use href="#q" x="684" y="83"/><text x="687.5" y="84.5">FARIA, J. B.</text></g>
<g id="p04"><use href="#q" x="713" y="99"/><text x="716.5" y="100.5">SANTOS JUNIOR, O. D.</text></g>
<g id="R2"><ellipse class="o" cx="601" cy="163" rx="5.5" ry="6.3"/><text x="608" y="164.5">MEDEIRO, M. A.</text></g>
<g id="m01"><use href="#q" x="564" y="46"/><text x="567.5" y="47.5">ARAGÃO, J.E.O.S.</text></g>
<g id="m02"><use href="#q" x="615" y="47"/><text x="618.5" y="48.5">MATTOS, M.J.V.M.</text></g>
<g id="m03"><use href="#q" x="545" y="61"/><text x="548.5" y="62.5">ZUCCOLOTTO, P.A.G.L.</text></g>
<g id="m04"><use href="#q" x="587" y="73"/><text x="590.5" y="74.5">AMORIM, F.R.</text></g>
<g id="m05"><use href="#q" x="629" y="67"/><text x="632.5" y="68.5">LUNARDI, R.M.</text></g>
<g id="m06"><use href="#q" x="536" y="82"/><text x="539.5" y="83.5">VASSERGORN, J.</text></g>
<g id="m07"><use href="#q" x="597" y="87"/><text x="600.5" y="88.5">SILVA, O. N.</text></g>
<g id="m08"><use href="#q" x="639" y="81"/><text x="642.5" y="82.5">GERVAZ, R.M.</text></g>
<g id="m09"><use href="#q" x="532" y="102"/><text x="535.5" y="103.5">CARDOSO, K.</text></g>
<g id="m10"><use href="#q" x="615" y="101"/><text x="618.5" y="102.5">VICTALINO, F.</text></g>
<g id="m11"><use href="#q" x="645" y="107"/><text x="648.5" y="108.5">SOTTO, E.C.S.</text></g>
<g id="m12"><use href="#q" x="536" y="118"/><text x="539.5" y="119.5">MARTINS-PONGELUPPI, T.D.</text></g>
<g id="m13"><use href="#q" x="647" y="119"/><text x="650.5" y="120.5">NASCIMENTO, M. L.</text></g>
<g id="m14"><use href="#q" x="645" y="132"/><text x="648.5" y="133.5">GONFLONI, J.A.</text></g>
<g id="m15"><use href="#q" x="537" y="141"/><text x="540.5" y="142.5">MONTINI, A.</text></g>
<g id="m16"><use href="#q" x="653" y="142"/><text x="656.5" y="143.5">MATINO, M.T.D.</text></g>
<g id="m17"><use href="#q" x="541" y="158"/><text x="544.5" y="159.5">MOURA, J.F.</text></g>
<g id="m18"><use href="#q" x="674" y="156"/><text x="677.5" y="157.5">SILVA, V.A.F.</text></g>
<g id="m19"><use href="#q" x="664" y="174"/><text x="667.5" y="175.5">RODRIGUES, G.A.</text></g>
<g id="m20"><use href="#q" x="539" y="179"/><text x="542.5" y="180.5">MENDES, F.S.</text></g>
<g id="m21"><use href="#q" x="615" y="183"/><text x="618.5" y="184.5">SILVA, J. V.</text></g>
<g id="m22"><use href="#q" x="648" y="194"/><text x="651.5" y="195.5">FREDERICA, U.C.M.</text></g>
<g id="m23"><use href="#q" x="539" y="197"/><text x="542.5" y="198.5">SILVA, D. M.</text></g>
<g id="m24"><use href="#q" x="594" y="194"/><text x="597.5" y="195.5">CAMPOS, J.M.</text></g>
<g id="m25"><use href="#q" x="600" y="207"/><text x="603.5" y="208.5">ARRUDA, P.M.C.</text></g>
<g id="m26"><use href="#q" x="623" y="214"/><text x="626.5" y="215.5">SANTOS, C. M.</text></g>
<g id="m27"><use href="#q" x="547" y="217"/><text x="550.5" y="218.5">BARROS, I.C.G.</text></g>
<g id="m28"><use href="#q" x="568" y="232"/><text x="571.5" y="233.5">PEREIRA, S.T.</text></g>
<g id="m29"><use href="#q" x="613" y="233"/><text x="616.5" y="234.5">PONTARELLI, V.J.</text></g>
<g id="R3"><ellipse class="o" cx="735" cy="147" rx="5.5" ry="6.3"/><text x="742" y="148.5">COSTA, S. T. B.</text></g>
<g id="k01"><use href="#q" x="741" y="129"/><text x="744.5" y="130.5">BIANCHI, N.</text></g>
<g id="k02"><use href="#q" x="713" y="121"/><text x="716.5" y="122.5">SOUZA, R. L.</text></g>
<g id="k03"><use href="#q" x="719" y="162"/><text x="722.5" y="163.5">SOUZA, F. A.</text></g>
<g id="k04"><use href="#q" x="760" y="160"/><text x="763.5" y="161.5">SOARES, N. M.</text></g>
<g id="R4"><ellipse class="o" cx="832" cy="108" rx="5.5" ry="6.3"/><text x="839" y="109.5">SILVA, L.A.</text></g>
<g id="l01"><use href="#q" x="802" y="43"/><text x="805.5" y="44.5">YUNIS-AGUINAGA, J.</text></g>
<g id="l02"><use href="#q" x="859" y="46"/><text x="862.5" y="47.5">SANTANA, P.B.</text></g>
<g id="l03"><use href="#q" x="817" y="56"/><text x="820.5" y="57.5">SPILLER, V.B.</text></g>
<g id="l04"><use href="#q" x="769" y="69"/><text x="772.5" y="70.5">MATIOLI, G.</text></g>
<g id="l05"><use href="#q" x="804" y="77"/><text x="807.5" y="78.5">VALARINI JUNIOR, O.</text></g>
<g id="l06"><use href="#q" x="852" y="90"/><text x="855.5" y="91.5">MANCILIO, L.B.K.</text></g>
<g id="l07"><use href="#q" x="768" y="90"/><text x="771.5" y="91.5">SERLI, B.C.</text></g>
<g id="l08"><use href="#q" x="769" y="113"/><text x="772.5" y="114.5">GUAZZARONI, M.E.</text></g>
<g id="l09"><use href="#q" x="852" y="128"/><text x="855.5" y="129.5">MORAES, F.F.</text></g>
<g id="l10"><use href="#q" x="789" y="135"/><text x="792.5" y="136.5">ANDRADE, A.</text></g>
<g id="l11"><use href="#q" x="816" y="154"/><text x="819.5" y="155.5">JUNIN, G.M.</text></g>
<g id="l12"><use href="#q" x="839" y="165"/><text x="842.5" y="166.5">SARAIVA, A. M.</text></g>
<g id="R5"><ellipse class="o" cx="976" cy="73" rx="5.5" ry="6.3"/><text x="983" y="74.5">SANNA, V. P.</text></g>
<g id="s01"><use href="#q" x="918" y="44"/><text x="921.5" y="45.5">MORAES, A.C.P.</text></g>
<g id="s02"><use href="#q" x="968" y="42"/><text x="971.5" y="43.5">TEIXEIRA, L. C. A. A.</text></g>
<g id="s03"><use href="#q" x="1010" y="49"/><text x="1013.5" y="50.5">ESPINDOLA, S.M.C.G.</text></g>
<g id="s04"><use href="#q" x="956" y="56"/><text x="959.5" y="57.5">MARRO, A.O.M.</text></g>
<g id="s05"><use href="#q" x="894" y="59"/><text x="897.5" y="60.5">TREVISOLI, S.H.B.</text></g>
<g id="s06"><use href="#q" x="1026" y="59"/><text x="1029.5" y="60.5">CORREA, A.A.P.</text></g>
<g id="s07"><use href="#q" x="888" y="72"/><text x="891.5" y="73.5">LINÉIA-TREVISOLI, S.H.</text></g>
<g id="s08"><use href="#q" x="900" y="87"/><text x="903.5" y="88.5">FORNELL, L. M. B.</text></g>
<g id="s09"><use href="#q" x="1029" y="86"/><text x="1032.5" y="87.5">RAMAZ, A. C. R.</text></g>
<g id="s10"><use href="#q" x="980" y="95"/><text x="983.5" y="96.5">LEITE, O.C.</text></g>
<g id="s11"><use href="#q" x="1022" y="97"/><text x="1025.5" y="98.5">FIGUEIREDO, N.P.</text></g>
<g id="s12"><use href="#q" x="903" y="102"/><text x="906.5" y="103.5">AZEVEDO, C. V. G.</text></g>
<g id="s13"><use href="#q" x="957" y="107"/><text x="960.5" y="108.5">CASTRO, L.H.S.</text></g>
<g id="s14"><use href="#q" x="1012" y="107"/><text x="1015.5" y="108.5">BAZETTO, M.S.B.</text></g>
<g id="s15"><use href="#q" x="938" y="119"/><text x="941.5" y="120.5">BOAVENTURA, B. A. R.</text></g>
<g id="s16"><use href="#q" x="1004" y="122"/><text x="1007.5" y="123.5">PEREIRA JUNIOR, J. A.P.</text></g>
<g id="R6"><ellipse class="o" cx="891" cy="223" rx="5.5" ry="6.3"/><text x="898" y="224.5">BARROS, S.G.</text></g>
<g id="o01"><use href="#q" x="884" y="148"/><text x="887.5" y="149.5">FARIA, J. L.</text></g>
<g id="o02"><use href="#q" x="903" y="161"/><text x="906.5" y="162.5">MACHADO, L. M.</text></g>
<g id="o03"><use href="#q" x="864" y="177"/><text x="867.5" y="178.5">RODRIGUES, C.S.D.</text></g>
<g id="o04"><use href="#q" x="844" y="190"/><text x="847.5" y="191.5">SILVA, E. S.</text></g>
<g id="o05"><use href="#q" x="930" y="186"/><text x="933.5" y="187.5">OLIVEIRA, T.A.</text></g>
<g id="o06"><use href="#q" x="813" y="205"/><text x="816.5" y="206.5">SOUZA, A. P.</text></g>
<g id="o07"><use href="#q" x="918" y="212"/><text x="921.5" y="213.5">SUAREZ, W.A.B.</text></g>
<g id="o08"><use href="#q" x="849" y="218"/><text x="852.5" y="219.5">MORAES, I.</text></g>
<g id="o09"><use href="#q" x="836" y="231"/><text x="839.5" y="232.5">OLIVEIRA, L. D.</text></g>
<g id="o10"><use href="#q" x="941" y="142"/><text x="944.5" y="143.5">ROMERO, W.P.</text></g>
<g id="R7"><ellipse class="o" cx="981" cy="234" rx="5.5" ry="6.3"/><text x="988" y="235.5">MARTINS, J.G.</text></g>
<g id="t01"><use href="#q" x="989" y="142"/><text x="992.5" y="143.5">SILVA, T. R.</text></g>
<g id="t02"><use href="#q" x="1012" y="151"/><text x="1015.5" y="152.5">GIACHETTO, P.F.</text></g>
<g id="t03"><use href="#q" x="960" y="155"/><text x="963.5" y="156.5">CARVALHO, F.M.S.</text></g>
<g id="t04"><use href="#q" x="1029" y="159"/><text x="1032.5" y="160.5">TELLES, B.R.</text></g>
<g id="t05"><use href="#q" x="972" y="170"/><text x="975.5" y="171.5">OLIVEIRA, A. C. P.</text></g>
<g id="t06"><use href="#q" x="1030" y="173"/><text x="1033.5" y="174.5">PINHO, J.A.</text></g>
<g id="t07"><use href="#q" x="1034" y="184"/><text x="1037.5" y="185.5">SALVADOR, R.</text></g>
<g id="t08"><use href="#q" x="989" y="188"/><text x="992.5" y="189.5">MARTINS, L. S.</text></g>
<g id="t09"><use href="#q" x="1041" y="193"/><text x="1044.5" y="194.5">SCAPPER, T.</text></g>
<g id="t10"><use href="#q" x="1021" y="202"/><text x="1024.5" y="203.5">MORAES, J. R. E.</text></g>
<g id="t11"><use href="#q" x="1031" y="210"/><text x="1034.5" y="211.5">SOMENZ, O.P.J.</text></g>
<g id="t12"><use href="#q" x="1037" y="218"/><text x="1040.5" y="219.5">LOPES, L.</text></g>
<g id="t13"><use href="#q" x="1023" y="247"/><text x="1026.5" y="248.5">PINHEIRO, D.G.</text></g>
<g id="t14"><use href="#q" x="1028" y="256"/><text x="1031.5" y="257.5">CENTRA, I.C.</text></g>
<g id="t15"><use href="#q" x="1029" y="266"/><text x="1032.5" y="267.5">FONSECA, L.F.S.</text></g>
<g id="t16"><use href="#q" x="1029" y="277"/><text x="1032.5" y="278.5">BAZETTA, J.O.</text></g>
<g id="t17"><use href="#q" x="986" y="271"/><text x="989.5" y="272.5">PENA, M.M.</text></g>
<g id="t18"><use href="#q" x="977" y="288"/><text x="980.5" y="289.5">CASTRO, G.</text></g>
<g id="t19"><use href="#q" x="1022" y="289"/><text x="1025.5" y="290.5">CAVALLARI, S. D. C.</text></g>
<g id="t20"><use href="#q" x="965" y="300"/><text x="968.5" y="301.5">MORAES, F. R.</text></g>
<g id="t21"><use href="#q" x="1035" y="297"/><text x="1038.5" y="298.5">BOUSIN, A.A.</text></g>
<g id="t22"><use href="#q" x="1029" y="308"/><text x="1032.5" y="309.5">CARLIN, S.D.</text></g>
<g id="t23"><use href="#q" x="924" y="309"/><text x="927.5" y="310.5">TIZZA, R.I.D.</text></g>
<g id="t24"><use href="#q" x="956" y="320"/><text x="959.5" y="321.5">SILVA, A. C. B.</text></g>
<g id="t25"><use href="#q" x="999" y="319"/><text x="1002.5" y="320.5">OTOMO, O.C.</text></g>
<g id="t26"><use href="#q" x="1034" y="325"/><text x="1037.5" y="326.5">LEMOS, M. V. F.</text></g>
<g id="t27"><use href="#q" x="927" y="333"/><text x="930.5" y="334.5">GREGOTO, E.</text></g>
<g id="t28"><use href="#q" x="968" y="336"/><text x="971.5" y="337.5">MADEREGAN, C.</text></g>
<g id="t29"><use href="#q" x="1012" y="337"/><text x="1015.5" y="338.5">CLAUDIANO, G. S.</text></g>
<g id="t30"><use href="#q" x="1030" y="347"/><text x="1033.5" y="348.5">FERRAZ, D.</text></g>
<g id="t31"><use href="#q" x="930" y="351"/><text x="933.5" y="352.5">FRUTTOS, M.A.</text></g>
<g id="t32"><use href="#q" x="988" y="357"/><text x="991.5" y="358.5">MARINHO-NETO, F. A.</text></g>
<g id="t33"><use href="#q" x="921" y="259"/><text x="924.5" y="260.5">PEDRO, M.I.F.</text></g>
<g id="t34"><use href="#q" x="919" y="282"/><text x="922.5" y="283.5">SOUZA, R.M.</text></g>
<g id="R8"><ellipse class="o" cx="839" cy="273" rx="5.5" ry="6.3"/><text x="846" y="274.5">FRANCO, C.F.</text></g>
<g id="u01"><use href="#q" x="857" y="247"/><text x="860.5" y="248.5">RECOLTI, L. C.</text></g>
<g id="u02"><use href="#q" x="867" y="259"/><text x="870.5" y="260.5">BATISTA, G.S.</text></g>
<g id="u03"><use href="#q" x="882" y="292"/><text x="885.5" y="293.5">ROMANZINI, L.M.</text></g>
<g id="u04"><use href="#q" x="872" y="304"/><text x="875.5" y="305.5">QUEIROZ, L. F. G.</text></g>
<g id="u05"><use href="#q" x="804" y="297"/><text x="807.5" y="298.5">MARTINS, M.A.</text></g>
<g id="u06"><use href="#q" x="803" y="314"/><text x="806.5" y="315.5">PRADO, R.M.</text></g>
<g id="u07"><use href="#q" x="871" y="321"/><text x="874.5" y="322.5">MORI, R.</text></g>
<g id="u08"><use href="#q" x="832" y="322"/><text x="835.5" y="323.5">AMORIM, G.F.</text></g>
<g id="u09"><use href="#q" x="803" y="331"/><text x="806.5" y="332.5">PEREZ, M.V.</text></g>
<g id="u10"><use href="#q" x="856" y="331"/><text x="859.5" y="332.5">CARVALHO, A.T.L.</text></g>
<g id="u11"><use href="#q" x="822" y="341"/><text x="825.5" y="342.5">FIVETTA, K.F.L.</text></g>
<g id="u12"><use href="#q" x="806" y="353"/><text x="809.5" y="354.5">BOZANE, D.E.</text></g>
<g id="u13"><use href="#q" x="848" y="351"/><text x="851.5" y="352.5">BARRETO, V.C.M.</text></g>
<g id="R9"><ellipse class="o" cx="707" cy="269" rx="5.5" ry="6.3"/><text x="714" y="270.5">JARDIM, C. A.</text></g>
<g id="j01"><use href="#q" x="636" y="245"/><text x="639.5" y="246.5">SOUZA, A.C.O.S.</text></g>
<g id="j02"><use href="#q" x="726" y="179"/><text x="729.5" y="180.5">TANAKA, P. A.</text></g>
<g id="j03"><use href="#q" x="762" y="188"/><text x="765.5" y="189.5">ARAUJO, L. L.</text></g>
<g id="j04"><use href="#q" x="703" y="191"/><text x="706.5" y="192.5">PANNICELLI, M. I. G.</text></g>
<g id="j05"><use href="#q" x="736" y="201"/><text x="739.5" y="202.5">ROMEM JUNIOR, A.C.</text></g>
<g id="j06"><use href="#q" x="771" y="211"/><text x="774.5" y="212.5">FERREIRA, D.S.</text></g>
<g id="j07"><use href="#q" x="689" y="213"/><text x="692.5" y="214.5">MARCHESIN, J.C.</text></g>
<g id="j08"><use href="#q" x="708" y="227"/><text x="711.5" y="228.5">ACEDIDIO, C.</text></g>
<g id="j09"><use href="#q" x="771" y="232"/><text x="774.5" y="233.5">BARBOSA, R.C.V.</text></g>
<g id="j10"><use href="#q" x="634" y="264"/><text x="637.5" y="265.5">ETIGNAC, P. T. L.</text></g>
<g id="j11"><use href="#q" x="626" y="278"/><text x="629.5" y="279.5">PEREIRA, S.A.P.</text></g>
<g id="j12"><use href="#q" x="625" y="293"/><text x="628.5" y="294.5">GUIMARÃES, M.</text></g>
<g id="j13"><use href="#q" x="767" y="253"/><text x="770.5" y="254.5">GILSTO, P.C.</text></g>
<g id="j14"><use href="#q" x="762" y="298"/><text x="765.5" y="299.5">PINHEIRO, B.P.</text></g>
<g id="j15"><use href="#q" x="707" y="303"/><text x="710.5" y="304.5">GOMES, M.A.</text></g>
<g id="j16"><use href="#q" x="646" y="312"/><text x="649.5" y="313.5">ROCHA, T. R. G.</text></g>
<g id="j17"><use href="#q" x="752" y="311"/><text x="755.5" y="312.5">PEREIRA, J.G.B.</text></g>
<g id="j18"><use href="#q" x="695" y="317"/><text x="698.5" y="318.5">OLIVEIRA, R. C.</text></g>
<g id="j19"><use href="#q" x="655" y="325"/><text x="658.5" y="326.5">TESTA, F. R.</text></g>
<g id="j20"><use href="#q" x="747" y="327"/><text x="750.5" y="328.5">FRANGOTTE, F.L.C.</text></g>
<g id="j21"><use href="#q" x="675" y="337"/><text x="678.5" y="338.5">CAMPOS, R. R.</text></g>
<g id="j22"><use href="#q" x="738" y="342"/><text x="741.5" y="343.5">GONCALVES, B.C.C.</text></g>
<g id="j23"><use href="#q" x="657" y="352"/><text x="660.5" y="353.5">SANTOS, O.O.</text></g>
<g id="j24"><use href="#q" x="700" y="349"/><text x="703.5" y="350.5">MARTINS, I.</text></g>
<g id="R10"><ellipse class="o" cx="586" cy="304" rx="5.5" ry="6.3"/><text x="593" y="305.5">PAIVA, N.F.</text></g>
<g id="v01"><use href="#q" x="557" y="255"/><text x="560.5" y="256.5">TEIXEIRA, J. R.</text></g>
<g id="v02"><use href="#q" x="584" y="267"/><text x="587.5" y="268.5">PAULA, R. C.</text></g>
<g id="v03"><use href="#q" x="539" y="284"/><text x="542.5" y="285.5">PASQUALINO, L. L.</text></g>
<g id="v04"><use href="#q" x="539" y="312"/><text x="542.5" y="313.5">SABINO, L.M.</text></g>
<g id="v05"><use href="#q" x="605" y="318"/><text x="608.5" y="319.5">HSING, T. Y.</text></g>
<g id="v06"><use href="#q" x="541" y="334"/><text x="544.5" y="335.5">FAUSTINO, P.A.S.</text></g>
<g id="v07"><use href="#q" x="599" y="335"/><text x="602.5" y="336.5">PEGORINI, M.C.</text></g>
<g id="v08"><use href="#q" x="586" y="352"/><text x="589.5" y="353.5">LEONARDO, L.M.</text></g>
</svg>
